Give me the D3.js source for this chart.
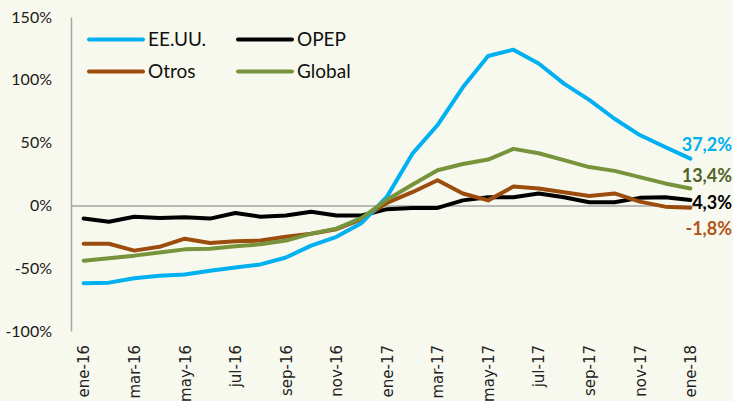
<!DOCTYPE html>
<html>
<head>
<meta charset="utf-8">
<script src="https://cdn.jsdelivr.net/npm/d3@7"></script>
<style>
  body { margin: 0; background: #f8f9ee; }
  svg { display: block; }
</style>
</head>
<body>
<script>
// months on the x axis (monthly, ene-16 .. ene-18)
var months = ["ene-16", "feb-16", "mar-16", "abr-16", "may-16", "jun-16",
    "jul-16", "ago-16", "sep-16", "oct-16", "nov-16", "dic-16",
    "ene-17", "feb-17", "mar-17", "abr-17", "may-17", "jun-17",
    "jul-17", "ago-17", "sep-17", "oct-17", "nov-17", "dic-17", "ene-18"];
var monthTicks = months.filter(function(d, i){ return i % 2 === 0; });

// series values, in percent
var eeuu = [-62, -61.5, -58, -56, -55, -52, -49.5, -47, -41.5, -32, -25, -14,
    7, 41, 64, 94, 119, 124, 113, 97, 84, 69, 56, 46.5, 37.2];
var opep = [-10.5, -13, -9, -10, -9.5, -10.5, -6, -9, -8, -5, -8, -8,
    -3, -2, -2, 4, 6.5, 6.5, 9.5, 6.5, 2.5, 2.5, 6, 6.5, 4.3];
var otros = [-30.5, -30.5, -36, -33, -26.5, -30, -28.5, -28, -25, -22.5, -19, -11,
    2, 10.5, 20, 9.5, 4, 15, 13.5, 10.5, 7.5, 9.5, 3, -1, -1.8];
var global = [-44, -42, -40, -37.5, -35, -34.5, -32.5, -31, -28, -22.5, -18.5, -10,
    4.5, 16.5, 28, 33, 36.5, 45, 41.5, 36, 30.5, 27.5, 22.5, 17.5, 13.4];

var yTicks = [-100, -50, 0, 50, 100, 150];

var width = 733, height = 401;

var series = [
    {name: "EE.UU.", values: eeuu, color: "#00b0f0", label: "#00b0f0", dy: -14},
    {name: "OPEP", values: opep, color: "#000000", label: "#000000", dy: 3},
    {name: "Otros", values: otros, color: "#9c4d0e", label: "#b0561a", dy: 21},
    {name: "Global", values: global, color: "#77933c", label: "#4f6228", dy: -13}
];

var svg = d3.select("body").append("svg")
    .attr("width", width)
    .attr("height", height);

svg.append("rect")
    .attr("width", width)
    .attr("height", height)
    .attr("fill", "#f8f9ee");

var x = d3.scalePoint().domain(months).range([71, 703]).padding(0.5);
var y = d3.scaleLinear().domain([-100, 150]).range([331, 17]);

// y axis
var gY = svg.append("g")
    .attr("transform", "translate(71,0)")
    .call(d3.axisLeft(y).tickValues(yTicks).tickSize(0).tickPadding(19)
        .tickFormat(function(d){ return d + "%"; }));
gY.select(".domain").attr("stroke", "#a6a6a6").attr("stroke-width", 1.5);
gY.selectAll("text")
    .style("font-family", "Lato, sans-serif")
    .style("font-size", "16px")
    .attr("fill", "#1a1a1a");

// zero line
var gZero = svg.append("g")
    .attr("transform", "translate(0," + y(0) + ")")
    .call(d3.axisBottom(x).tickValues([]).tickSize(0).tickSizeOuter(0));
gZero.select(".domain").attr("stroke", "#a6a6a6").attr("stroke-width", 1.5);

// x labels, rotated
var gX = svg.append("g")
    .attr("transform", "translate(0,345)")
    .call(d3.axisBottom(x).tickValues(monthTicks).tickSize(0));
gX.select(".domain").remove();
gX.selectAll("text")
    .attr("transform", "rotate(-90)")
    .attr("text-anchor", "end")
    .attr("x", 0)
    .attr("y", 0)
    .attr("dx", 0)
    .attr("dy", "0.35em")
    .style("font-family", "'DejaVu Sans', sans-serif")
    .style("font-size", "15px")
    .attr("fill", "#222");

var line = d3.line()
    .x(function(d, i){ return x(months[i]); })
    .y(function(d){ return y(d); });

// draw order: OPEP, Otros, EE.UU., Global on top
[series[1], series[2], series[0], series[3]].forEach(function(s){
    svg.append("path")
        .datum(s.values)
        .attr("d", line)
        .attr("fill", "none")
        .attr("stroke", s.color)
        .attr("stroke-width", 4)
        .attr("stroke-linejoin", "round")
        .attr("stroke-linecap", "round");
});

// end labels
var fmt = d3.format(".1f");
series.forEach(function(s){
    var last = s.values[s.values.length - 1];
    svg.append("text")
        .text(fmt(last).replace("\u2212", "-").replace(".", ",") + "%")
        .attr("x", width - 1)
        .attr("y", y(last) + s.dy)
        .attr("dy", "0.35em")
        .attr("text-anchor", "end")
        .style("font-family", "Lato, sans-serif")
        .style("font-weight", "bold")
        .style("font-size", "18px")
        .attr("fill", s.label);
});

// legend
var legend = svg.append("g");
series.forEach(function(s, i){
    var lx = 89 + (i % 2) * 149, ly = 39.5 + Math.floor(i / 2) * 32;
    legend.append("line")
        .attr("x1", lx).attr("x2", lx + 54)
        .attr("y1", ly).attr("y2", ly)
        .attr("stroke", s.color)
        .attr("stroke-width", 4)
        .attr("stroke-linecap", "round");
    legend.append("text")
        .text(s.name)
        .attr("x", lx + 59)
        .attr("y", ly)
        .attr("dy", "0.35em")
        .style("font-family", "Lato, sans-serif")
        .style("font-size", "19px")
        .attr("fill", "#111");
});
</script>
</body>
</html>
